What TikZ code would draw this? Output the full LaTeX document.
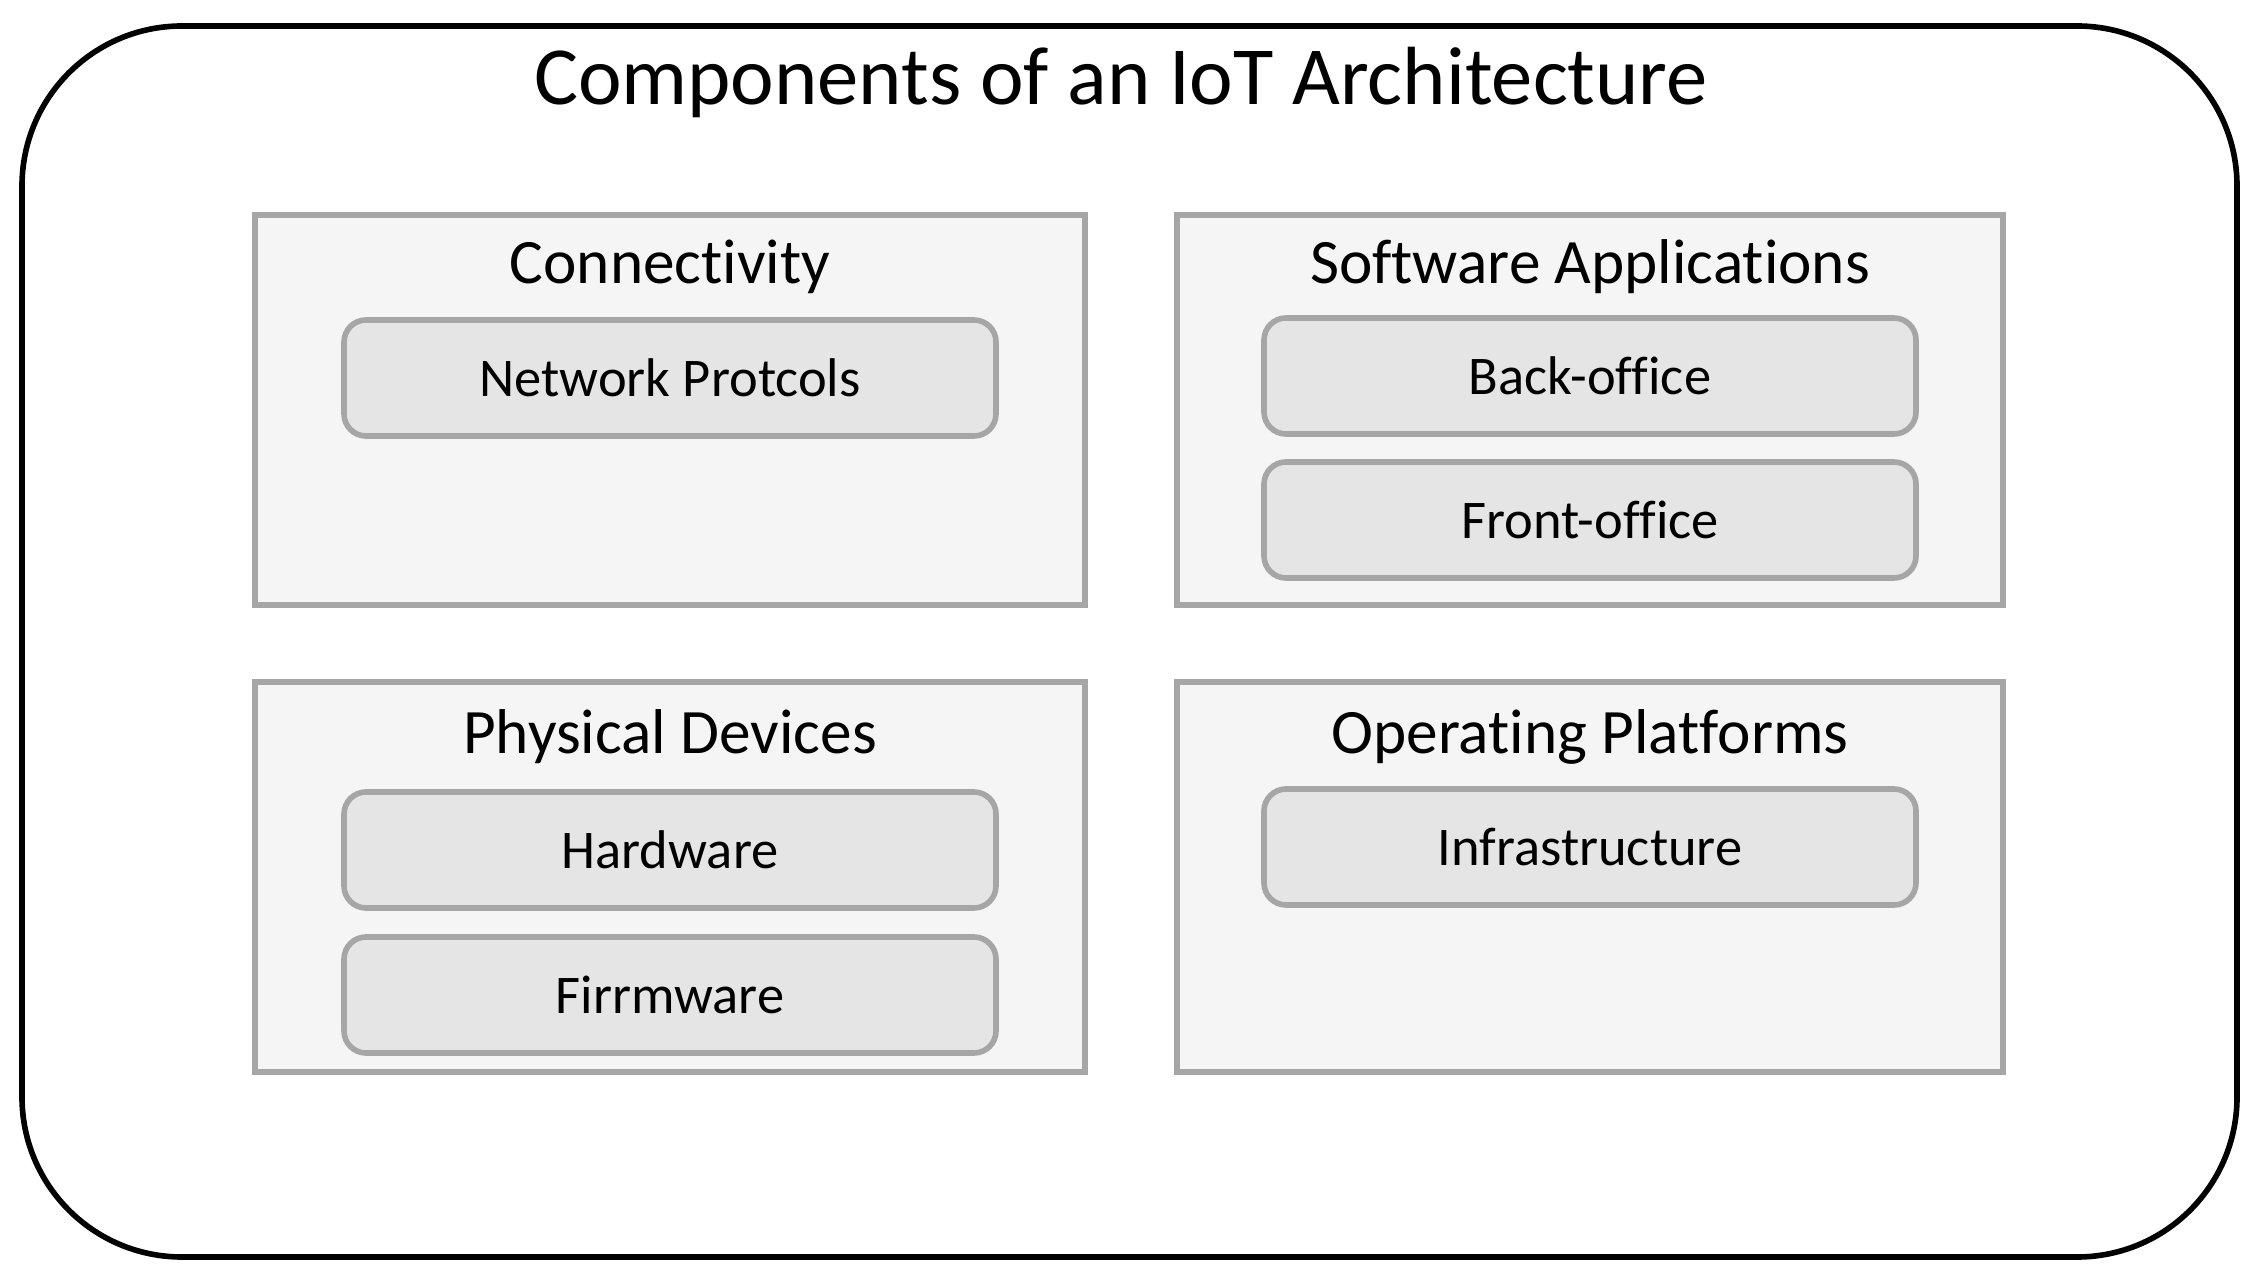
\documentclass[tikz,border=0pt]{standalone}
\usepackage{fontspec}
\setmainfont{Carlito}[Ligatures=NoCommon]
\definecolor{boxgray}{HTML}{F5F5F5}
\definecolor{itemgray}{HTML}{E5E5E5}
\definecolor{edgegray}{HTML}{A6A6A6}
\tikzset{
  group/.style={draw=edgegray, fill=boxgray, line width=1.6pt, minimum width=8.30cm, minimum height=3.90cm},
  item/.style={draw=edgegray, fill=itemgray, line width=1.6pt, rounded corners=0.22cm, minimum width=6.52cm, minimum height=1.16cm, font=\fontsize{15.5}{19}\selectfont},
  grouptitle/.style={font=\fontsize{18}{22}\selectfont}
}
\begin{document}
\begin{tikzpicture}
    \useasboundingbox (0,0) rectangle (22.55,-12.80);
    % outer frame
    \draw[line width=1.6pt, rounded corners=1.6cm] (0.22,-0.26) rectangle (22.37,-12.57);
    \node[font=\fontsize{23.5}{28}\selectfont] (title) at (11.21,-0.82) {Components of an IoT Architecture};

    % group boxes
    \node[group] (conn) at (6.70,-4.10) {};
    \node[group, minimum width=8.26cm] (soft) at (15.90,-4.10) {};
    \node[group] (phys) at (6.70,-8.77) {};
    \node[group, minimum width=8.26cm] (oper) at (15.90,-8.77) {};

    % group titles
    \node[grouptitle] (conntitle) at (6.70,-2.67) {Connectivity};
    \node[grouptitle] (softtitle) at (15.90,-2.67) {Software Applications};
    \node[grouptitle] (phystitle) at (6.70,-7.37) {Physical Devices};
    \node[grouptitle] (opertitle) at (15.90,-7.37) {Operating Platforms};

    % items
    \node[item] (netprot) at (6.70,-3.78) {Network Protcols};
    \node[item] (back) at (15.90,-3.76) {Back-office};
    \node[item] (front) at (15.90,-5.20) {Front-office};
    \node[item] (hard) at (6.70,-8.50) {Hardware};
    \node[item] (firm) at (6.70,-9.95) {Firrmware};
    \node[item] (infra) at (15.90,-8.47) {Infrastructure};
\end{tikzpicture}
\end{document}
